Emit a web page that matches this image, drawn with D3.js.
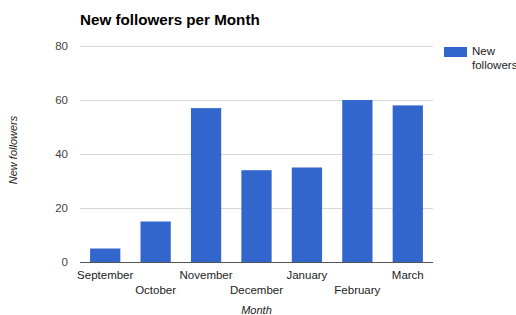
<!DOCTYPE html>
<html>
<head>
<meta charset="utf-8">
<script src="https://cdn.jsdelivr.net/npm/d3@7"></script>
<style>
  body { margin: 0; background: #fff; }
  text { font-family: Arial, "Liberation Sans", sans-serif; }
</style>
</head>
<body>
<div id="chart"></div>
<script>
// chart data
var months = ['September', 'October', 'November', 'December', 'January', 'February', 'March'];
var followers = [5, 15, 57, 34, 35, 60, 58];
var yTicks = [0, 20, 40, 60, 80];

var width = 516, height = 315;
var plotLeft = 80, plotRight = 433, plotTop = 46, plotBottom = 262;

var svg = d3.select('#chart')
    .append('svg')
    .attr('width', width)
    .attr('height', height);

var x = d3.scaleBand()
    .domain(months)
    .range([plotLeft, plotRight])
    .paddingInner(0.4)
    .paddingOuter(0.2);

var y = d3.scaleLinear()
    .domain([0, 80])
    .range([plotBottom, plotTop]);

// gridlines
svg.append('g')
  .selectAll('line')
  .data(yTicks)
  .enter()
  .append('line')
  .attr('x1', plotLeft)
  .attr('x2', plotRight)
  .attr('y1', function (d) { return y(d) + 0.5; })
  .attr('y2', function (d) { return y(d) + 0.5; })
  .attr('stroke', '#d8d8d8');

// y tick labels
svg.append('g')
  .selectAll('text')
  .data(yTicks)
  .enter()
  .append('text')
  .attr('x', 68)
  .attr('y', function (d) { return y(d) + 4; })
  .attr('text-anchor', 'end')
  .attr('font-size', 11.5)
  .attr('fill', '#444')
  .text(function (d) { return d; });

// bars
svg.append('g')
  .selectAll('rect')
  .data(followers)
  .enter()
  .append('rect')
  .attr('x', function (d, i) { return x(months[i]); })
  .attr('width', x.bandwidth())
  .attr('y', function (d) { return y(d); })
  .attr('height', function (d) { return y(0) - y(d); })
  .attr('fill', '#3366cc');

// baseline
svg.append('line')
  .attr('x1', plotLeft)
  .attr('x2', plotRight)
  .attr('y1', y(0) + 0.5)
  .attr('y2', y(0) + 0.5)
  .attr('stroke', '#555');

// x labels, staggered in two rows
svg.append('g')
  .selectAll('text')
  .data(months)
  .enter()
  .append('text')
  .attr('x', function (d) { return x(d) + x.bandwidth() / 2; })
  .attr('y', function (d, i) { return i % 2 === 0 ? 279 : 294; })
  .attr('text-anchor', 'middle')
  .attr('font-size', 11.5)
  .attr('fill', '#222')
  .text(function (d) { return d; });

// title
svg.append('text')
  .attr('x', 80)
  .attr('y', 25)
  .attr('font-size', 15.2)
  .attr('font-weight', 'bold')
  .attr('fill', '#000')
  .text('New followers per Month');

// axis titles
svg.append('text')
  .attr('transform', 'translate(17,150) rotate(-90)')
  .attr('text-anchor', 'middle')
  .attr('font-size', 11)
  .attr('font-style', 'italic')
  .attr('fill', '#222')
  .text('New followers');

svg.append('text')
  .attr('x', (plotLeft + plotRight) / 2)
  .attr('y', 314)
  .attr('text-anchor', 'middle')
  .attr('font-size', 11)
  .attr('font-style', 'italic')
  .attr('fill', '#222')
  .text('Month');

// legend
var legend = svg.append('g');
legend.append('rect')
  .attr('x', 444)
  .attr('y', 47)
  .attr('width', 23)
  .attr('height', 10)
  .attr('fill', '#3366cc');
legend.append('text')
  .attr('x', 472)
  .attr('y', 55)
  .attr('font-size', 11.5)
  .attr('fill', '#222')
  .text('New');
legend.append('text')
  .attr('x', 472)
  .attr('y', 69)
  .attr('font-size', 11.5)
  .attr('fill', '#222')
  .text('followers');
</script>
</body>
</html>
